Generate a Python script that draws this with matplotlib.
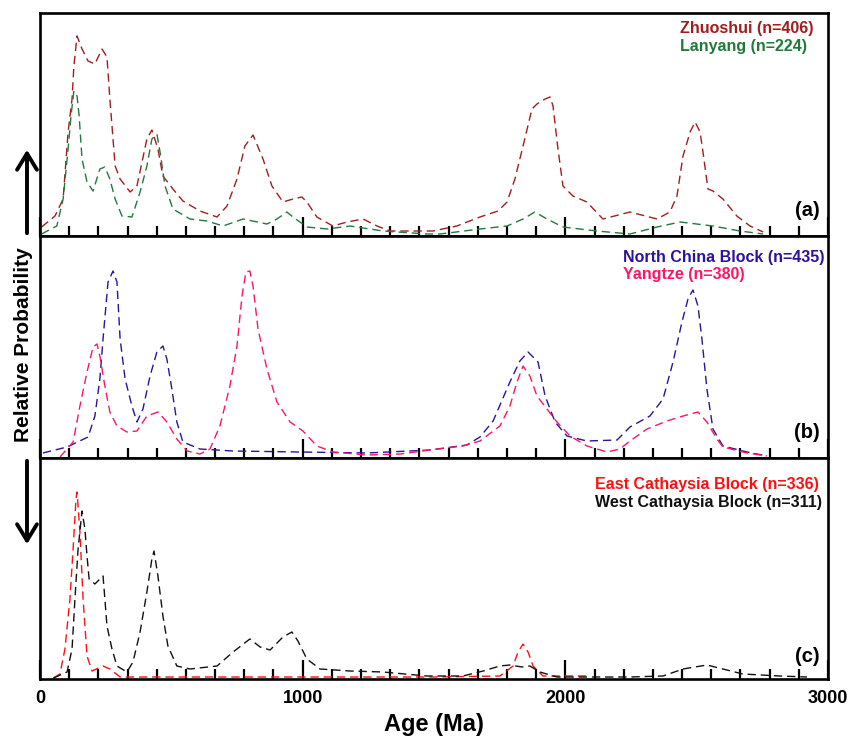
import numpy as np
import matplotlib
matplotlib.use('Agg')
import matplotlib.pyplot as plt
from matplotlib.ticker import MultipleLocator, AutoMinorLocator, NullLocator
from matplotlib.patches import FancyArrowPatch

plt.rcParams['font.family'] = ['Liberation Sans', 'DejaVu Sans']
plt.rcParams['font.weight'] = 'bold'

# ---- panel (a) ----
zhuoshui_age = [6, 57, 88, 107, 122, 129, 141, 160, 183, 209, 236, 255, 266, 278, 286, 305, 343, 369,
                407, 426, 449, 468, 506, 544, 609, 674, 712, 750, 780, 811, 849, 883, 925, 963, 997,
                1016, 1054, 1115, 1169, 1230, 1283, 1332, 1458, 1496, 1587, 1675, 1744, 1778, 1808,
                1839, 1873, 1892, 1923, 1942, 1953, 1972, 1991, 2029, 2082, 2143, 2246, 2349, 2398,
                2425, 2448, 2475, 2494, 2513, 2524, 2543, 2562, 2600, 2653, 2703, 2753]
zhuoshui_p = [8, 19, 36, 103, 136, 169, 199, 186, 174, 171, 186, 178, 136, 96, 69, 56, 43, 49,
              96, 105, 86, 59, 46, 34, 24, 18, 29, 56, 89, 100, 76, 49, 33, 36, 38,
              33, 18, 9, 13, 16, 9, 4, 4, 4, 9, 18, 24, 33, 56,
              89, 126, 131, 136, 138, 129, 86, 49, 39, 33, 16, 23, 16, 23,
              39, 79, 103, 113, 103, 83, 46, 44, 36, 19, 9, 3]

lanyang_age = [6, 64, 88, 107, 118, 129, 141, 149, 160, 179, 202, 228, 247, 266, 286, 312, 350, 381,
               407, 426, 445, 457, 476, 506, 571, 636, 697, 773, 864, 902, 940, 963, 1016, 1093,
               1180, 1306, 1473, 1523, 1675, 1778, 1839, 1884, 1930, 1991, 2120, 2246, 2349, 2437,
               2562, 2665, 2753]
lanyang_p = [1, 9, 36, 86, 119, 144, 139, 119, 76, 53, 44, 66, 68, 56, 36, 19, 18, 43,
             69, 96, 101, 83, 49, 26, 16, 14, 9, 16, 11, 16, 23, 18, 8, 6,
             9, 4, 1, 1, 6, 9, 16, 23, 16, 8, 4, 1, 8, 13,
             9, 4, 1]

# ---- panel (b) ----
ncb_age = [11, 103, 183, 209, 228, 240, 259, 278, 293, 305, 324, 350, 369, 392, 419, 445, 468, 483,
           502, 521, 544, 609, 735, 990, 1245, 1485, 1625, 1675, 1725, 1789, 1827, 1858, 1896, 1923,
           1961, 2006, 2082, 2197, 2246, 2322, 2372, 2410, 2444, 2467, 2486, 2505, 2520, 2539, 2562,
           2600, 2692, 2768]
ncb_p = [4, 10, 20, 41, 78, 118, 175, 186, 175, 118, 78, 51, 35, 48, 81, 105, 111, 98,
         68, 35, 15, 8, 6, 5, 4, 7, 12, 20, 36, 75, 96, 105, 95, 61,
         35, 21, 16, 17, 30, 41, 58, 95, 135, 158, 167, 151, 118, 68, 28,
         11, 5, 1]

yangtze_age = [76, 126, 152, 179, 202, 217, 228, 247, 266, 293, 331, 369, 407, 449, 483, 521, 560,
               609, 647, 685, 723, 750, 769, 784, 799, 811, 830, 864, 902, 952, 1001, 1054, 1115,
               1245, 1371, 1485, 1610, 1675, 1751, 1789, 1816, 1839, 1865, 1892, 1930, 1968, 2018,
               2082, 2159, 2208, 2246, 2311, 2387, 2448, 2505, 2539, 2577, 2600, 2692, 2768]
yangtze_p = [0, 15, 51, 85, 110, 113, 101, 71, 45, 31, 25, 26, 41, 45, 35, 18, 6,
             3, 8, 31, 71, 111, 161, 185, 186, 171, 128, 88, 55, 35, 26, 11, 5,
             2, 3, 7, 11, 16, 31, 51, 75, 91, 81, 61, 48, 35, 21,
             11, 5, 8, 16, 28, 36, 41, 45, 35, 18, 10, 4, 1]

# ---- panel (c) ----
east_age = [51, 76, 95, 114, 126, 137, 141, 152, 164, 179, 198, 240, 266, 305, 500, 1000, 1500,
            1751, 1801, 1820, 1839, 1858, 1877, 1915, 2094]
east_p = [0, 4, 29, 79, 129, 179, 186, 146, 79, 22, 7, 12, 9, 1, 1, 1, 1,
          2, 12, 26, 34, 26, 12, 2, 2]

west_age = [51, 103, 122, 133, 145, 160, 171, 179, 187, 209, 228, 240, 247, 255, 274, 293, 331, 354,
            381, 407, 426, 434, 449, 468, 487, 521, 571, 674, 735, 799, 838, 876, 925, 959, 982,
            1016, 1066, 1180, 1306, 1473, 1610, 1687, 1751, 1789, 1835, 1865, 1903, 1968, 2246,
            2372, 2448, 2539, 2600, 2676, 2817, 2920]
west_p = [0, 6, 29, 79, 129, 167, 149, 122, 99, 94, 99, 102, 79, 52, 29, 12, 6, 16,
          46, 86, 119, 127, 102, 62, 32, 12, 9, 12, 26, 39, 31, 28, 41, 46, 37,
          19, 9, 7, 6, 2, 2, 7, 12, 13, 11, 12, 6, 1, 1,
          2, 9, 13, 9, 4, 2, 1]

panels = [
    [(zhuoshui_age, zhuoshui_p, '#a31d1d', 'Zhuoshui (n=406)'),
     (lanyang_age, lanyang_p, '#217a3c', 'Lanyang (n=224)')],
    [(ncb_age, ncb_p, '#2c129c', 'North China Block (n=435)'),
     (yangtze_age, yangtze_p, '#ff1466', 'Yangtze (n=380)')],
    [(east_age, east_p, '#ff1010', 'East Cathaysia Block (n=336)'),
     (west_age, west_p, '#111111', 'West Cathaysia Block (n=311)')],
]
panel_tags = ['(a)', '(b)', '(c)']

W, H = 860, 737
fig = plt.figure(figsize=(W / 100, H / 100), dpi=100)

# panel edges in pixels (top, bottom)
edges = [(13, 236), (236, 458), (458, 679)]
left_px, right_px = 40, 828
text_x = [680, 623, 595]
text_y = [28, 257, 485]
tag_y = [210, 433, 657]

axes = []
for i, (top, bot) in enumerate(edges):
    ax = fig.add_axes([left_px / W, 1 - bot / H, (right_px - left_px) / W, (bot - top) / H])
    for age, p, c, lab in panels[i]:
        ax.plot(age, p, color=c, lw=1.0, dashes=(6, 3.5))
    ax.set_xlim(0, 3000)
    ax.set_ylim(-1, bot - top - 1)
    ax.xaxis.set_major_locator(MultipleLocator(1000))
    ax.xaxis.set_minor_locator(AutoMinorLocator(9))
    ax.yaxis.set_major_locator(NullLocator())
    ax.tick_params(axis='x', which='major', direction='in', length=14, width=1.6,
                   labelsize=13, pad=8)
    ax.tick_params(axis='x', which='minor', direction='in', length=7, width=1.6)
    for s in ax.spines.values():
        s.set_linewidth(1.9)
    if i < 2:
        ax.tick_params(axis='x', labelbottom=False)
    # legend-like labels
    for k, (age, p, c, lab) in enumerate(panels[i]):
        fig.text(text_x[i] / W, 1 - (text_y[i] + k * 18) / H, lab, color=c, fontsize=11.5,
                 fontweight='bold', ha='left', va='center')
    fig.text(820 / W, 1 - tag_y[i] / H, panel_tags[i], ha='right', va='center',
             fontsize=14.5, fontweight='bold')
    axes.append(ax)

for lab in axes[2].get_xticklabels():
    lab.set_fontweight('bold')

axes[2].set_xlabel('Age (Ma)', fontsize=17, fontweight='bold', labelpad=4)

fig.text(24 / W, 1 - 345 / H, 'Relative Probability', rotation=90, fontsize=15,
         fontweight='bold', ha='center', va='center')

arrow_kw = dict(arrowstyle='->,head_length=0.9,head_width=0.55', lw=2.8, color='black',
                transform=fig.transFigure, mutation_scale=13)
fig.add_artist(FancyArrowPatch((27 / W, 1 - 236 / H), (27 / W, 1 - 147 / H), **arrow_kw))
fig.add_artist(FancyArrowPatch((27 / W, 1 - 458 / H), (27 / W, 1 - 547 / H), **arrow_kw))

fig.savefig('out.png', dpi=100)
